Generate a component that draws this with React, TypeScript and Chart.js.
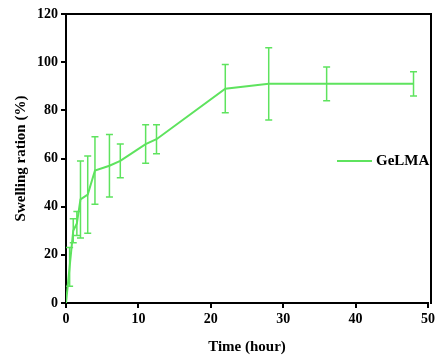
import React, { useEffect, useRef } from "react";
import { Chart, registerables } from "chart.js";

Chart.register(...registerables);

const times = [0, 0.5, 1, 1.5, 2, 3, 4, 6, 7.5, 11, 12.5, 22, 28, 36, 48];
const swelling = [0, 15, 30, 33, 43, 45, 55, 57, 59, 66, 68, 89, 91, 91, 91];
const errors = [0, 8, 5, 5, 16, 16, 14, 13, 7, 8, 6, 10, 15, 7, 5];
const seriesName = "GeLMA";
const xTitle = "Time (hour)";
const yTitle = "Swelling ration (%)";

const GREEN = "#5ee35e";
const FONT = "'Liberation Serif', 'Times New Roman', serif";

const errorBarPlugin = {
  id: "errorBars",
  afterDatasetsDraw(chart: any) {
    const { ctx, scales } = chart;
    const xs = scales.x;
    const ys = scales.y;
    ctx.save();
    ctx.strokeStyle = GREEN;
    ctx.lineWidth = 1.5;
    times.forEach((t, i) => {
      const e = errors[i];
      if (!e) return;
      const px = xs.getPixelForValue(t);
      const top = ys.getPixelForValue(swelling[i] + e);
      const bot = ys.getPixelForValue(swelling[i] - e);
      ctx.beginPath();
      ctx.moveTo(px, top);
      ctx.lineTo(px, bot);
      ctx.moveTo(px - 3.5, top);
      ctx.lineTo(px + 3.5, top);
      ctx.moveTo(px - 3.5, bot);
      ctx.lineTo(px + 3.5, bot);
      ctx.stroke();
    });
    ctx.restore();
  },
};

const framePlugin = {
  id: "frame",
  afterDraw(chart: any) {
    const { ctx, chartArea } = chart;
    const { left, right, top, bottom } = chartArea;
    ctx.save();
    ctx.strokeStyle = "#000";
    ctx.lineWidth = 2;
    ctx.beginPath();
    ctx.moveTo(left, top);
    ctx.lineTo(right + 3, top);
    ctx.lineTo(right + 3, bottom + 1);
    ctx.stroke();
    // legend
    const ly = top + 147;
    const lx = right - 91;
    ctx.strokeStyle = GREEN;
    ctx.lineWidth = 2;
    ctx.beginPath();
    ctx.moveTo(lx, ly);
    ctx.lineTo(lx + 35, ly);
    ctx.stroke();
    ctx.fillStyle = "#000";
    ctx.font = `bold 15px ${FONT}`;
    ctx.textBaseline = "middle";
    ctx.textAlign = "left";
    ctx.fillText(seriesName, lx + 39, ly);
    ctx.restore();
  },
};

export default function App() {
  const ref = useRef<HTMLCanvasElement>(null);
  useEffect(() => {
    document.body.style.margin = "0";
    const chart = new Chart(ref.current!, {
      type: "line",
      data: {
        datasets: [
          {
            label: seriesName,
            data: times.map((t, i) => ({ x: t, y: swelling[i] })),
            borderColor: GREEN,
            backgroundColor: GREEN,
            borderWidth: 2,
            pointRadius: 0,
            tension: 0,
          },
        ],
      },
      options: {
        responsive: false,
        animation: false,
        devicePixelRatio: 1,
        layout: { padding: { top: 14, right: 16, left: 0, bottom: 0 } },
        plugins: { legend: { display: false }, tooltip: { enabled: false } },
        scales: {
          x: {
            type: "linear",
            min: 0,
            max: 50,
            ticks: { stepSize: 10, color: "#000", padding: 3, font: { family: FONT, size: 14, weight: "bold" } },
            grid: { drawOnChartArea: false, drawTicks: true, tickLength: 5, color: "#000", lineWidth: 2 },
            border: { display: true, color: "#000", width: 2 },
            title: { display: true, text: xTitle, color: "#000", padding: { top: 4, bottom: 4 }, font: { family: FONT, size: 15, weight: "bold" } },
            afterFit: (s: any) => { s.height = 57; },
          },
          y: {
            min: 0,
            max: 120,
            ticks: { stepSize: 20, color: "#000", padding: 3, font: { family: FONT, size: 14, weight: "bold" } },
            grid: { drawOnChartArea: false, drawTicks: true, tickLength: 5, color: "#000", lineWidth: 2 },
            border: { display: true, color: "#000", width: 2 },
            title: { display: true, text: yTitle, color: "#000", padding: { top: 12, bottom: 0 }, font: { family: FONT, size: 15, weight: "bold" } },
            afterFit: (s: any) => { s.width = 66; },
          },
        },
      },
      plugins: [errorBarPlugin, framePlugin],
    } as any);
    return () => chart.destroy();
  }, []);
  return (
    <div style={{ width: 444, height: 360, background: "#fff" }}>
      <canvas ref={ref} width={444} height={360} style={{ width: 444, height: 360, display: "block" }} />
    </div>
  );
}
